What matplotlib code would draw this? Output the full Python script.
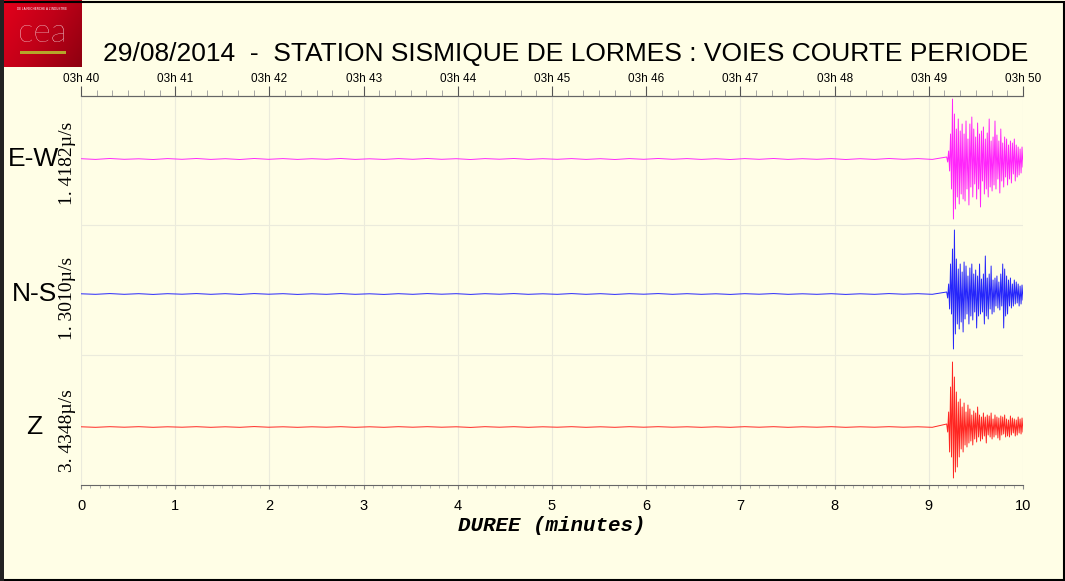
import numpy as np
import matplotlib.pyplot as plt
from matplotlib.patches import Rectangle
from matplotlib.colors import LinearSegmentedColormap

plt.rcParams['font.family'] = ['Liberation Sans', 'DejaVu Sans']

# --- data (amplitudes, in plot units ~ pixels) ---
channels = ['E-W', 'N-S', 'Z']
scale_labels = ['1. 4182\u00b5/s', '1. 3010\u00b5/s', '3. 4348\u00b5/s']
colors = ['#ff00ff', '#0000ff', '#ff0000']
offsets = [-63, -198, -331]
dividers = [-129, -259]
onset_min = 9.19
end_min = 10.0

top_ticks = ['03h 40', '03h 41', '03h 42', '03h 43', '03h 44', '03h 45',
             '03h 46', '03h 47', '03h 48', '03h 49', '03h 50']

noise_ew = [0.3, -0.4, 0.5, -0.3, 0.2, -0.5, 0.4, -0.3, 0.5, -0.4, 0.3, -0.5,
            0.5, -0.3, 0.4, -0.4, 0.3, -0.3, 0.5, -0.4, 0.2, -0.4, 0.4, -0.3,
            0.5, -0.3, 0.3, -0.5, 0.4, -0.2, 0.5, -0.4, 0.3, -0.3, 0.4, -0.4,
            0.3, -0.5, 0.4, -0.3, 0.5, -0.3, 0.4, -0.4, 0.3, -0.5, 0.4, -0.3,
            0.5, -0.4, 0.3, -0.3, 0.4, -0.5, 0.3, -0.4, 0.5, -0.3, 0.4, -0.4]
noise_ns = [0.2, -0.3, 0.4, -0.3, 0.3, -0.4, 0.3, -0.2, 0.4, -0.3, 0.3, -0.4,
            0.4, -0.2, 0.3, -0.4, 0.2, -0.3, 0.4, -0.3, 0.2, -0.4, 0.3, -0.3,
            0.4, -0.2, 0.3, -0.4, 0.3, -0.2, 0.4, -0.3, 0.2, -0.3, 0.4, -0.3,
            0.3, -0.4, 0.3, -0.2, 0.4, -0.3, 0.3, -0.3, 0.2, -0.4, 0.3, -0.2,
            0.4, -0.3, 0.2, -0.3, 0.3, -0.4, 0.2, -0.3, 0.4, -0.2, 0.3, -0.3]
noise_z = [0.2, -0.3, 0.3, -0.2, 0.3, -0.3, 0.2, -0.2, 0.3, -0.3, 0.2, -0.3,
           0.4, -0.2, 0.2, -0.3, 0.2, -0.2, 0.3, -0.3, 0.2, -0.3, 0.3, -0.2,
           0.3, -0.2, 0.2, -0.4, 0.3, -0.2, 0.3, -0.3, 0.2, -0.2, 0.3, -0.3,
           0.2, -0.3, 0.3, -0.2, 0.3, -0.2, 0.2, -0.3, 0.2, -0.3, 0.3, -0.2,
           0.3, -0.3, 0.2, -0.2, 0.3, -0.3, 0.2, -0.2, 0.3, -0.2, 0.2, -0.3]

event_ew = [2, -3, 8, -12, 25, -30, 60, -60, 45, -50, 30, -38, 40, -45, 28, -35,
            35, -40, 25, -42, 38, -30, 20, -46, 35, -28, 42, -38, 30, -25, 22, -40,
            36, -30, 25, -48, 28, -22, 32, -35, 20, -30, 26, -38, 40, -28, 18, -32,
            22, -26, 38, -30, 24, -20, 18, -34, 30, -22, 16, -28, 22, -18, 20, -26,
            14, -20, 18, -24, 16, -15, 20, -22, 14, -18, 12, -16, 10, -14, 12, -8]
event_ns = [2, -4, 10, -15, 30, -20, 45, -55, 64, -40, 35, -30, 25, -35, 30, -28,
            22, -38, 32, -25, 28, -20, 18, -30, 26, -22, 30, -26, 20, -18, 24, -34,
            18, -22, 30, -20, 15, -18, 20, -30, 38, -22, 16, -25, 20, -15, 28, -20,
            14, -18, 16, -12, 18, -14, 12, -16, 20, -12, 30, -34, 25, -22, 18, -20,
            14, -12, 16, -14, 10, -12, 14, -10, 12, -9, 10, -12, 8, -10, 9, -6]
event_z = [3, -5, 15, -25, 40, -30, 65, -51, 50, -45, 35, -40, 25, -30, 28, -22,
           20, -25, 24, -18, 15, -20, 22, -16, 18, -14, 12, -18, 16, -12, 14, -15,
           20, -10, 12, -14, 10, -12, 14, -9, 10, -16, 12, -8, 11, -10, 14, -12,
           8, -10, 12, -8, 10, -11, 9, -13, 11, -8, 10, -7, 12, -10, 8, -9,
           7, -10, 11, -8, 9, -6, 8, -9, 7, -8, 10, -6, 8, -7, 9, -5]

noises = [noise_ew, noise_ns, noise_z]
events = [event_ew, event_ns, event_z]

BG = '#fffee6'
W, H = 1065, 581

fig = plt.figure(figsize=(W / 100, H / 100), dpi=100, facecolor=BG)
ax = fig.add_axes([81 / W, 1 - 485 / H, (1023 - 81) / W, (485 - 96) / H])
ax.set_facecolor(BG)

for noise, event, off, col in zip(noises, events, offsets, colors):
    t_noise = np.linspace(0, onset_min, len(noise), endpoint=False)
    t_event = np.linspace(onset_min, end_min, len(event))
    t = np.concatenate([t_noise, t_event])
    y = np.concatenate([noise, event]) + off
    ax.plot(t, y, color=col, lw=0.7, alpha=0.85, zorder=3)

ax.set_xlim(0, 10)
ax.set_ylim(-389, 0)
ax.set_yticks([])
for xv in range(11):
    ax.axvline(xv, color='#ebebdc', lw=0.8, zorder=1)
for d in dividers:
    ax.axhline(d, color='#ebebdc', lw=0.8, zorder=1)

for s in ['left', 'right']:
    ax.spines[s].set_visible(False)
for s in ['top', 'bottom']:
    ax.spines[s].set_color('#666666')
    ax.spines[s].set_linewidth(0.8)

ax.set_xticks(range(11))
ax.set_xticks(np.arange(0, 10.01, 0.1), minor=True)
ax.tick_params(axis='x', which='major', length=3, color='#888888', labelsize=10.5, pad=7)
ax.tick_params(axis='x', which='minor', length=2, color='#aaaaaa')
ax.set_xlabel('DUREE (minutes)', family='Liberation Mono', fontsize=15,
              fontweight='bold', style='italic', labelpad=2)

top = ax.secondary_xaxis('top')
top.set_xticks(range(11))
top.set_xticklabels(top_ticks)
top.set_xticks(np.arange(0, 10.01, 1 / 6), minor=True)
top.tick_params(axis='x', which='major', length=7, color='#555555', labelsize=8.5, pad=1)
top.tick_params(axis='x', which='minor', length=4, color='#999999')
top.spines['top'].set_color('#666666')

for name, lab, off in zip(channels, scale_labels, offsets):
    yfig = ax.transData.transform((0, off))[1] / H
    fig.text(34 / W, yfig, name, fontsize=19, ha='center', va='center')
    fig.text(68 / W, yfig - 4 / H, lab, fontsize=14, family='Liberation Serif',
             rotation=90, ha='center', va='center')

fig.text(566 / W, 1 - 54 / H,
         '29/08/2014  -  STATION SISMIQUE DE LORMES : VOIES COURTE PERIODE',
         fontsize=19, ha='center', va='center')

# frame
fig.patches.append(Rectangle((0.5 / W, 1.5 / H), (W - 2) / W, (H - 3) / H,
                             transform=fig.transFigure, fill=False,
                             edgecolor='black', lw=1.5))
fig.patches.append(Rectangle((0, 0), 4 / W, 1, transform=fig.transFigure,
                             facecolor='#222222', edgecolor='none'))

# CEA logo
logo = fig.add_axes([3 / W, 1 - 67 / H, 79 / W, 67 / H])
grad = np.linspace(0, 1, 100)[None, :] * np.ones((60, 1)) + np.linspace(0, 0.5, 60)[:, None]
logo.imshow(grad, cmap=LinearSegmentedColormap.from_list(
    'cea', ['#e3001b', '#c00018', '#8e0010']), aspect='auto', extent=(0, 1, 0, 1))
logo.text(0.5, 0.5, 'cea', color='white', fontsize=24, ha='center', va='center',
          family='Lato', fontweight='light')
logo.text(0.5, 0.86, "DE LA RECHERCHE \u00c0 L'INDUSTRIE", color='white', fontsize=2.2,
          ha='center', va='center')
logo.add_patch(Rectangle((0.22, 0.2), 0.58, 0.045, facecolor='#b5a52a', edgecolor='none'))
logo.set_xlim(0, 1)
logo.set_ylim(0, 1)
logo.axis('off')

fig.savefig('out.png', dpi=100, facecolor=BG)
